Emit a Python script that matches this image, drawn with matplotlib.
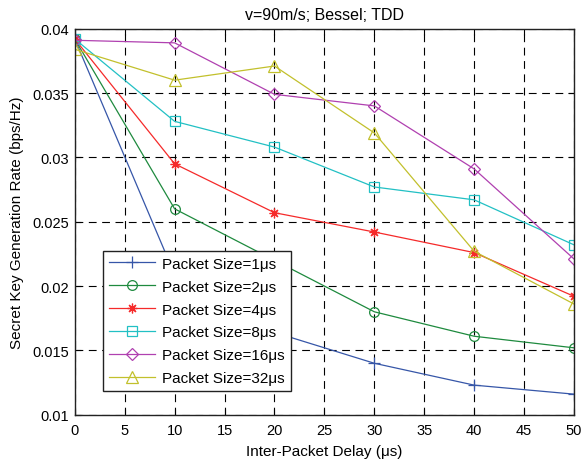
import matplotlib
matplotlib.use("Agg")
import matplotlib.pyplot as plt

plt.rcParams['font.family'] = ['Liberation Sans', 'DejaVu Sans']

# inter-packet delay (us)
delay = [0, 10, 20, 30, 40, 50]

# secret key generation rate per packet size
rate_1us = [0.0392, 0.0209, 0.0164, 0.0140, 0.0123, 0.0116]
rate_2us = [0.0392, 0.0260, 0.0220, 0.0180, 0.0161, 0.0152]
rate_4us = [0.0392, 0.0295, 0.0257, 0.0242, 0.0226, 0.0192]
rate_8us = [0.0392, 0.0328, 0.0308, 0.0277, 0.0267, 0.0232]
rate_16us = [0.0391, 0.0389, 0.0349, 0.0340, 0.0291, 0.0221]
rate_32us = [0.0384, 0.0360, 0.0371, 0.0319, 0.0227, 0.0186]

labels = ['Packet Size=1\u03bcs', 'Packet Size=2\u03bcs', 'Packet Size=4\u03bcs',
          'Packet Size=8\u03bcs', 'Packet Size=16\u03bcs', 'Packet Size=32\u03bcs']
series = [rate_1us, rate_2us, rate_4us, rate_8us, rate_16us, rate_32us]
colors = ['#3656a8', '#1e8a3e', '#f52a2a', '#22c0c4', '#b040b0', '#c2c02c']
markers = ['+', 'o', (8, 2, 0), 's', 'D', '^']
msizes = [8, 7, 7, 6.5, 6, 8]

fig = plt.figure(figsize=(5.84, 4.64), dpi=100)
ax = fig.add_axes([0.128, 0.104, 0.855, 0.832])

for y, lab, c, m, ms in zip(series, labels, colors, markers, msizes):
    ax.plot(delay, y, color=c, marker=m, markersize=ms, markerfacecolor='none',
            markeredgecolor=c, markeredgewidth=0.9, linewidth=0.9, label=lab)

ax.set_xlim(0, 50)
ax.set_ylim(0.01, 0.04)
ax.set_xticks(range(0, 51, 5))
ax.set_yticks([0.01, 0.015, 0.02, 0.025, 0.03, 0.035, 0.04])
ax.set_yticklabels(['0.01', '0.015', '0.02', '0.025', '0.03', '0.035', '0.04'])
ax.tick_params(direction='in', labelsize=10.5, length=4, top=True, right=True)
ax.tick_params(axis='x', pad=6)
ax.tick_params(axis='y', pad=4)
ax.grid(True, color='black', linestyle=(0, (7, 5)), linewidth=0.8)
for s in ax.spines.values():
    s.set_linewidth(1.0)
    s.set_color('#222222')

ax.set_title('v=90m/s; Bessel; TDD', fontsize=11.5, pad=7)
ax.set_xlabel('Inter-Packet Delay (\u03bcs)', fontsize=11, labelpad=5)
ax.set_ylabel('Secret Key Generation Rate (bps/Hz)', fontsize=11, labelpad=6)

leg = ax.legend(loc='upper left', bbox_to_anchor=(0.056, 0.425), fontsize=11,
                fancybox=False, edgecolor='#222222', framealpha=1,
                handlelength=3.0, handletextpad=0.5, borderpad=0.4,
                borderaxespad=0, labelspacing=0.58)
leg.get_frame().set_linewidth(1.0)

fig.savefig('out.png', dpi=100)
